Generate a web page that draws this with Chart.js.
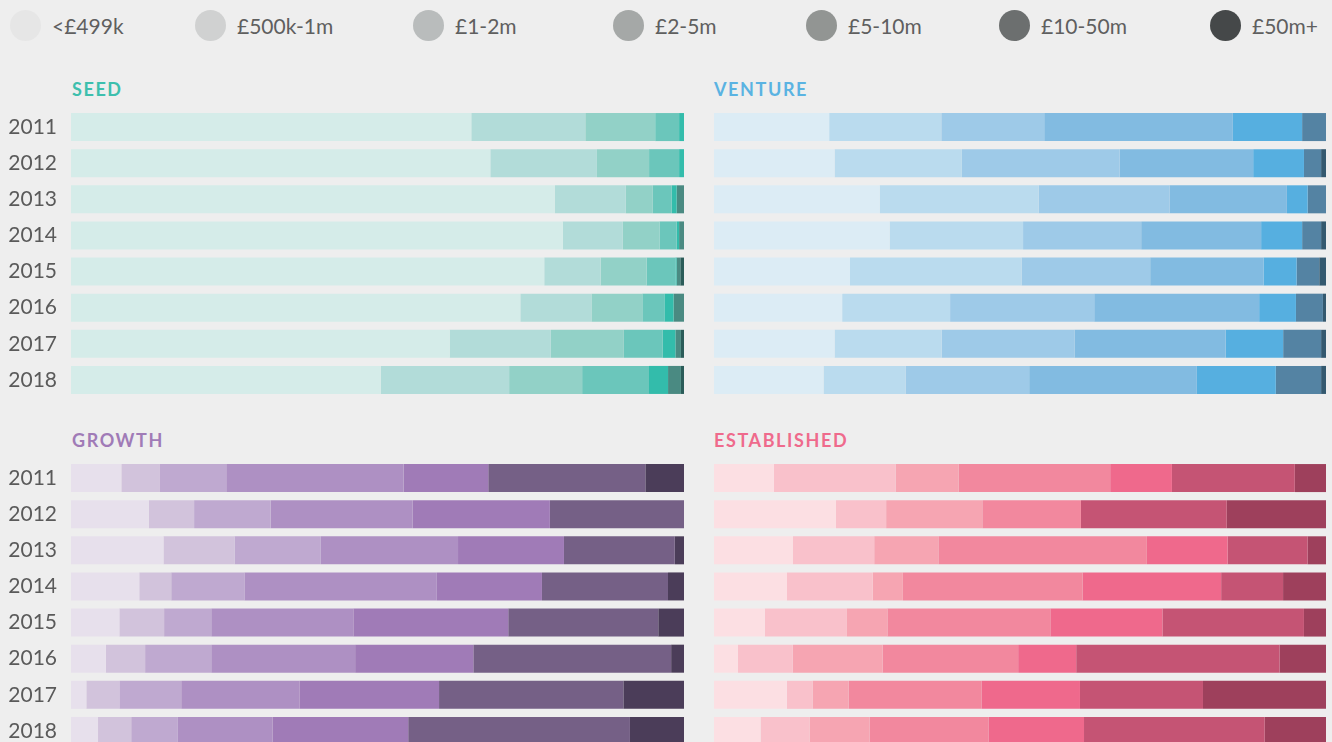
<!DOCTYPE html>
<html>
<head>
<meta charset="utf-8">
<script src="https://cdn.jsdelivr.net/npm/chart.js@4"></script>
<style>
  html, body { margin:0; padding:0; background:#eeeeee; width:1332px; height:742px; overflow:hidden; font-family: Lato, "Noto Sans", sans-serif; }
  .leg { position:absolute; top:10px; height:31px; display:flex; align-items:center; color:#5f5f5f; font-size:21px; }
  .leg span.dot { width:31px; height:31px; border-radius:50%; display:inline-block; margin-right:11px; }
  .title { position:absolute; font-weight:bold; font-size:18px; letter-spacing:1.6px; line-height:18px; }
  .panel { position:absolute; }
</style>
</head>
<body>
<div id="legend"></div>
<div class="title" style="left:72px; top:80px; color:#3dbfad;">SEED</div>
<div class="title" style="left:714px; top:80px; color:#5ab3e2;">VENTURE</div>
<div class="title" style="left:72px; top:431px; color:#a07bb7;">GROWTH</div>
<div class="title" style="left:714px; top:431px; color:#ef6a8c;">ESTABLISHED</div>
<div class="panel" id="p1" style="left:0px; top:109px; width:684px; height:289px;"><canvas id="c1"></canvas></div>
<div class="panel" id="p2" style="left:714px; top:109px; width:612px; height:289px;"><canvas id="c2"></canvas></div>
<div class="panel" id="p3" style="left:0px; top:460px; width:684px; height:289px;"><canvas id="c3"></canvas></div>
<div class="panel" id="p4" style="left:714px; top:460px; width:612px; height:289px;"><canvas id="c4"></canvas></div>
<script>
// ---- categories / bands ----
const years = ["2011","2012","2013","2014","2015","2016","2017","2018"];
const bands = ["<£499k","£500k-1m","£1-2m","£2-5m","£5-10m","£10-50m","£50m+"];
const legendColors = ["#e6e6e6","#d0d1d1","#b9bcbc","#a5a8a7","#929593","#6c6f6f","#454849"];

// ---- values: share (%) of deals per band, one row per year ----
const seedValues = [
  [65.3, 18.6, 11.4, 3.9, 0.8, 0.0, 0.0],
  [68.4, 17.4, 8.5, 4.9, 0.8, 0.0, 0.0],
  [79.0, 11.6, 4.4, 3.1, 0.8, 1.2, 0.0],
  [80.3, 9.8, 6.0, 2.8, 0.4, 0.8, 0.0],
  [77.2, 9.2, 7.5, 4.7, 0.2, 0.6, 0.6],
  [73.3, 11.6, 8.3, 3.6, 1.5, 1.7, 0.0],
  [61.7, 16.5, 11.9, 6.3, 2.1, 0.9, 0.5],
  [50.5, 20.9, 11.9, 10.9, 3.1, 2.1, 0.5]
];
const ventureValues = [
  [18.8, 18.3, 16.8, 30.8, 11.3, 3.9, 0.0],
  [19.7, 20.8, 25.8, 21.8, 8.3, 2.8, 0.8],
  [27.1, 26.0, 21.4, 19.2, 3.4, 3.0, 0.0],
  [28.7, 21.8, 19.3, 19.6, 6.7, 3.1, 0.8],
  [22.2, 28.0, 21.0, 18.5, 5.4, 3.7, 1.1],
  [20.9, 17.6, 23.5, 26.9, 6.0, 4.4, 0.5],
  [19.7, 17.5, 21.7, 24.7, 9.4, 6.2, 0.8],
  [17.9, 13.4, 20.2, 27.4, 12.9, 7.4, 0.8]
];
const growthValues = [
  [8.2, 6.3, 10.8, 28.9, 13.8, 25.6, 6.3],
  [12.7, 7.4, 12.5, 23.2, 22.4, 21.9, 0.0],
  [15.1, 11.6, 14.1, 22.4, 17.3, 18.1, 1.5],
  [11.1, 5.2, 11.9, 31.3, 17.1, 20.5, 2.6],
  [7.9, 7.3, 7.7, 23.2, 25.3, 24.5, 4.2],
  [5.7, 6.4, 10.8, 23.5, 19.3, 32.3, 2.1],
  [2.5, 5.4, 10.1, 19.3, 22.8, 30.1, 9.9],
  [4.4, 5.4, 7.6, 15.4, 22.1, 36.1, 8.8]
];
const establishedValues = [
  [9.8, 19.9, 10.3, 24.8, 10.1, 20.1, 5.1],
  [19.9, 8.2, 15.7, 16.1, 0.0, 23.8, 16.2],
  [12.9, 13.3, 10.5, 34.1, 13.2, 13.1, 3.0],
  [11.9, 14.0, 4.9, 29.3, 22.6, 10.1, 7.0],
  [8.3, 13.4, 6.6, 26.6, 18.3, 23.1, 3.6],
  [3.9, 9.0, 14.7, 22.2, 9.5, 33.3, 7.6],
  [11.9, 4.2, 5.9, 21.7, 16.1, 20.1, 20.1],
  [7.6, 8.0, 9.8, 19.4, 15.6, 29.5, 10.0]
];

// ---- palettes ----
const seedColors = ["#d5ece9","#b2dcd9","#92d1c7","#6bc6bb","#33bcab","#4a8a82","#2b5c59"];
const ventureColors = ["#dcecf5","#badbee","#9ecae8","#82bbe1","#56afe0","#5483a3","#34596f"];
const growthColors = ["#e7e0ec","#d2c3dc","#bfa9d0","#ae90c3","#a07bb7","#756086","#4b3d59"];
const establishedColors = ["#fcdfe3","#f9c1cb","#f6a5b2","#f2889e","#ef698c","#c55474","#9e405c"];

// ---- legend ----
const legendX = [10, 195, 413, 613, 806, 999, 1210];
const legendEl = document.getElementById('legend');
bands.forEach((b, i) => {
  const d = document.createElement('div');
  d.className = 'leg';
  d.style.left = legendX[i] + 'px';
  d.innerHTML = '<span class="dot" style="background:' + legendColors[i] + '"></span><span>' + b + '</span>';
  legendEl.appendChild(d);
});

function makeChart(id, rows, colors, showYears) {
  const datasets = bands.map((b, j) => ({
    label: b,
    data: rows.map(r => {
      const s = r.reduce((a, v) => a + v, 0);
      return r[j] * 100 / s;
    }),
    backgroundColor: colors[j],
    borderWidth: 0,
    categoryPercentage: 1,
    barPercentage: 28 / 36.1
  }));
  const yScale = {
    stacked: true,
    display: showYears,
    grid: { display: false, drawTicks: false },
    border: { display: false },
    ticks: { padding: 14, color: '#5a5a5a', font: { family: 'Lato', size: 21 } }
  };
  if (showYears) {
    yScale.afterFit = s => { s.width = 71; s.paddingTop = 0; s.paddingBottom = 0; };
  }
  return new Chart(document.getElementById(id), {
    type: 'bar',
    data: { labels: years, datasets },
    options: {
      indexAxis: 'y',
      responsive: true,
      maintainAspectRatio: false,
      animation: false,
      layout: { padding: 0, autoPadding: false },
      plugins: { legend: { display: false }, tooltip: { enabled: false }, title: { display: false } },
      scales: {
        x: { stacked: true, min: 0, max: 100, display: false },
        y: yScale
      }
    }
  });
}

makeChart('c1', seedValues, seedColors, true);
makeChart('c2', ventureValues, ventureColors, false);
makeChart('c3', growthValues, growthColors, true);
makeChart('c4', establishedValues, establishedColors, false);
</script>
</body>
</html>
